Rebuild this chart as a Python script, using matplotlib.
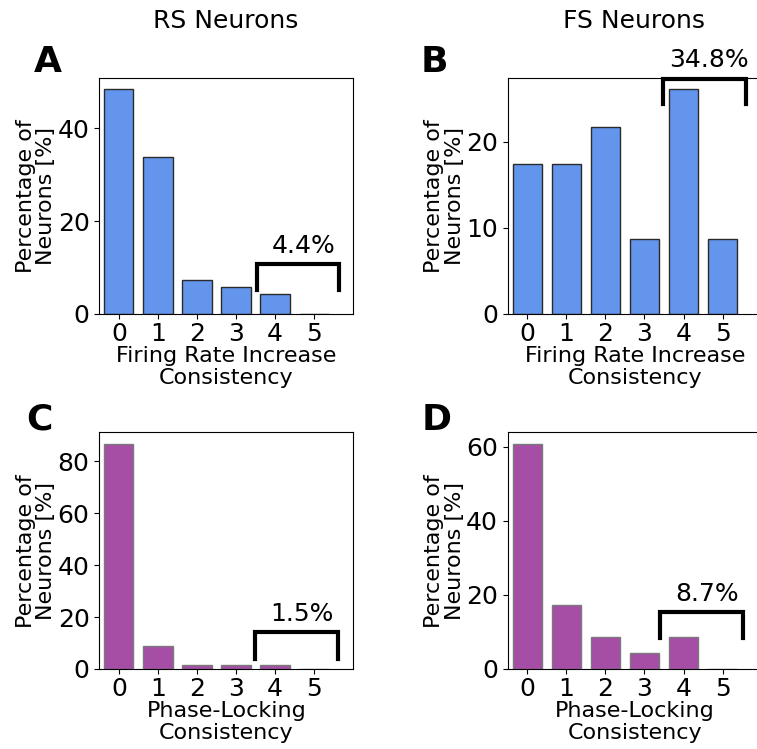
import matplotlib
matplotlib.use("Agg")
import matplotlib.pyplot as plt
import numpy as np

# consistency levels (number of sessions)
levels = [0, 1, 2, 3, 4, 5]

# percentage of neurons per consistency level
rs_rate = [48.5, 33.8, 7.4, 5.9, 4.4, 0.0]
fs_rate = [17.4, 17.4, 21.7, 8.7, 26.1, 8.7]
rs_lock = [86.8, 8.8, 1.5, 1.5, 1.5, 0.0]
fs_lock = [60.9, 17.4, 8.7, 4.3, 8.7, 0.0]

yticks_a = [0, 20, 40]
yticks_b = [0, 10, 20]
yticks_c = [0, 20, 40, 60, 80]
yticks_d = [0, 20, 40, 60]

W, H = 757, 749
fig = plt.figure(figsize=(W / 100, H / 100), dpi=100)

blue = "#6495ED"
purple = "#A64DA6"


def px_axes(left, top, right, bottom):
    return fig.add_axes([left / W, 1 - bottom / H, (right - left) / W, (bottom - top) / H])


def panel(ax, vals, yticks, color, edge, xlabel, br):
    x = np.array(levels)
    ax.bar(x, vals, width=0.75, color=color, edgecolor=edge, linewidth=1.0)
    ax.set_xlim(-0.5, 6.0)
    ax.set_ylim(0, max(vals) * 1.05)
    ax.set_xticks(x)
    ax.set_yticks(yticks)
    ax.tick_params(labelsize=18)
    ax.tick_params(axis="x", pad=2)
    ax.set_xlabel(xlabel, fontsize=16, labelpad=0, linespacing=1.15)
    ax.set_ylabel("Percentage of\nNeurons [%]", fontsize=16, labelpad=1, linespacing=1.05)
    # bracket over the two most consistent groups
    x0, x1, yb, yt, tx, ty = br
    ax.plot([x0, x0, x1, x1], [yb, yt, yt, yb], color="black", lw=3,
            solid_joinstyle="miter", clip_on=False)
    ax.text(tx, ty, f"{sum(vals[4:]):.1f}%", fontsize=18, ha="center",
            va="baseline", clip_on=False)


ax_a = px_axes(99.3, 77.7, 353.3, 314)
ax_b = px_axes(507.7, 77.7, 761.7, 314)
ax_c = px_axes(99.3, 432.3, 353.3, 669)
ax_d = px_axes(507.7, 432.3, 761.7, 669)

panel(ax_a, rs_rate, yticks_a, blue, "#2a2a2a", "Firing Rate Increase\nConsistency",
      (3.53, 5.64, 5.2, 10.7, 4.72, 13.2))
panel(ax_b, fs_rate, yticks_b, blue, "#2a2a2a", "Firing Rate Increase\nConsistency",
      (3.47, 5.6, 24.35, 27.3, 4.65, 28.7))
panel(ax_c, rs_lock, yticks_c, purple, "#7a7a7a", "Phase-Locking\nConsistency",
      (3.48, 5.6, 3.7, 14.1, 4.68, 18.3))
panel(ax_d, fs_lock, yticks_d, purple, "#7a7a7a", "Phase-Locking\nConsistency",
      (3.39, 5.51, 8.3, 15.3, 4.6, 18.4))

fig.text(226 / W, 1 - 28 / H, "RS Neurons", fontsize=18, ha="center", va="baseline")
fig.text(634 / W, 1 - 28 / H, "FS Neurons", fontsize=18, ha="center", va="baseline")

for lab, (lx, ly) in zip("ABCD", [(34, 72), (421, 72), (26, 430), (422, 430)]):
    fig.text(lx / W, 1 - ly / H, lab, fontsize=26, fontweight="bold",
             ha="left", va="baseline")

fig.savefig("out.png", dpi=100)
